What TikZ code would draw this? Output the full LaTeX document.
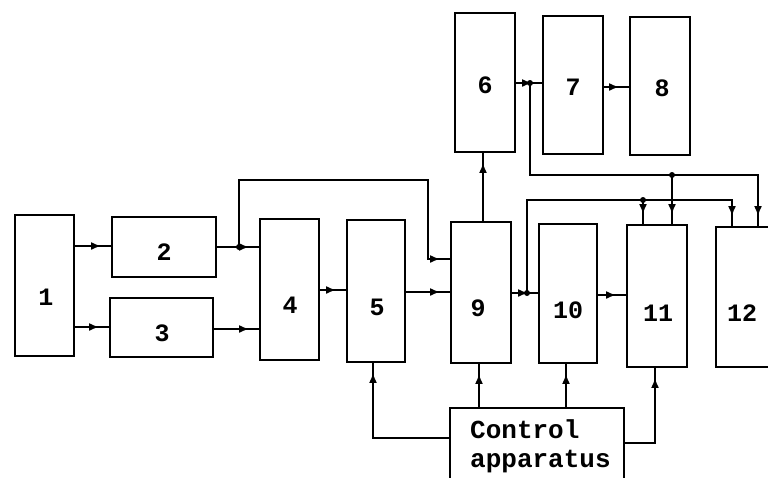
\documentclass[tikz,border=0pt]{standalone}
\usepackage{fontspec}
\setmonofont{Liberation Mono}
\usetikzlibrary{arrows.meta,decorations.markings}
\tikzset{
  box/.style={draw, line width=1.9pt, inner sep=0pt},
  num/.style={font=\ttfamily\bfseries\fontsize{25}{25}\selectfont, inner sep=0pt},
  ctltext/.style={font=\ttfamily\bfseries\fontsize{26}{29}\selectfont, inner sep=0pt, anchor=base west},
  conn/.style={line width=1.7pt, postaction={decorate},
    decoration={markings, mark=at position -10pt with {\arrow{Latex[length=10pt,width=8pt]}}}},
  jdot/.style={fill, circle, inner sep=0pt, minimum size=6pt}
}
\begin{document}
\begin{tikzpicture}[x=1pt,y=-1pt]
\useasboundingbox (0,0) rectangle (768,477);
\clip (0,0) rectangle (768,477);
\fill[white] (0,0) rectangle (768,477);
% boxes
\node[box, minimum width=59pt, minimum height=141pt] (n1) at (44.5,285.5) {};
\node[box, minimum width=104pt, minimum height=60pt] (n2) at (164,247) {};
\node[box, minimum width=103pt, minimum height=59pt] (n3) at (161.5,327.5) {};
\node[box, minimum width=59pt, minimum height=141pt] (n4) at (289.5,289.5) {};
\node[box, minimum width=58pt, minimum height=142pt] (n5) at (376,291) {};
\node[box, minimum width=60pt, minimum height=141pt] (n9) at (481,292.5) {};
\node[box, minimum width=60pt, minimum height=139pt] (n6) at (485,82.5) {};
\node[box, minimum width=60pt, minimum height=138pt] (n7) at (573,85) {};
\node[box, minimum width=60pt, minimum height=138pt] (n8) at (660,86) {};
\node[box, minimum width=58pt, minimum height=139pt] (n10) at (568,293.5) {};
\node[box, minimum width=60pt, minimum height=142pt] (n11) at (657,296) {};
\node[box, minimum width=58pt, minimum height=140pt] (n12) at (745,297) {};
\node[box, minimum width=174pt, minimum height=82pt] (ctl) at (537,449) {};
% labels
\node[num] (t1) at (46,297) {1};
\node[num] (t2) at (164,252) {2};
\node[num] (t3) at (162,333) {3};
\node[num] (t4) at (290,305) {4};
\node[num] (t5) at (377,307) {5};
\node[num] (t9) at (478,308) {9};
\node[num] (t6) at (485,85) {6};
\node[num] (t7) at (573,87) {7};
\node[num] (t8) at (662,88) {8};
\node[num] (t10) at (568,310) {10};
\node[num] (t11) at (658,313) {11};
\node[num] (t12) at (742,313) {12};
\node[ctltext] (c1) at (470,438) {Control};
\node[ctltext] (c2) at (470,467) {apparatus};
% junctions
\coordinate (j1) at (239,247);
\coordinate (j2) at (530,83);
\coordinate (j3) at (672,175);
\coordinate (j4) at (527,293);
\coordinate (j5) at (643,200);
% connectors
\draw[conn] (n1.east |- 0,246) -- (n2.west |- 0,246);
\draw[conn] (n1.east |- 0,327) -- (n3.west |- 0,327);
\draw[conn] (n2.east |- 0,247) -- (n4.west |- 0,247);
\draw[conn] (n3.east |- 0,329) -- (n4.west |- 0,329);
\draw[conn] (j1) -- (239,180) -- (428,180) -- (428,259) -- (n9.west |- 0,259);
\draw[conn] (n4.east |- 0,290) -- (n5.west |- 0,290);
\draw[conn] (n5.east |- 0,292) -- (n9.west |- 0,292);
\draw[conn] (n9.north -| 483,0) -- (n6.south -| 483,0);
\draw[conn] (n6.east |- 0,83) -- (n7.west |- 0,83);
\draw[conn] (n7.east |- 0,87) -- (n8.west |- 0,87);
\draw[conn] (j2) -- (530,175) -- (758,175) -- (n12.north -| 758,0);
\draw[conn] (j3) -- (n11.north -| 672,0);
\draw[conn] (j4) -- (527,200) -- (732,200) -- (n12.north -| 732,0);
\draw[conn] (j5) -- (n11.north -| 643,0);
\draw[conn] (n9.east |- 0,293) -- (n10.west |- 0,293);
\draw[conn] (n10.east |- 0,295) -- (n11.west |- 0,295);
\draw[conn] (ctl.west |- 0,438) -- (373,438) -- (n5.south -| 373,0);
\draw[conn] (ctl.north -| 479,0) -- (n9.south -| 479,0);
\draw[conn] (ctl.north -| 566,0) -- (n10.south -| 566,0);
\draw[conn] (ctl.east |- 0,443) -- (655,443) -- (n11.south -| 655,0);
% junction dots
\node[jdot] (d1) at (j1) {};
\node[jdot] (d2) at (j2) {};
\node[jdot] (d3) at (j3) {};
\node[jdot] (d4) at (j4) {};
\node[jdot] (d5) at (j5) {};
\end{tikzpicture}
\end{document}
